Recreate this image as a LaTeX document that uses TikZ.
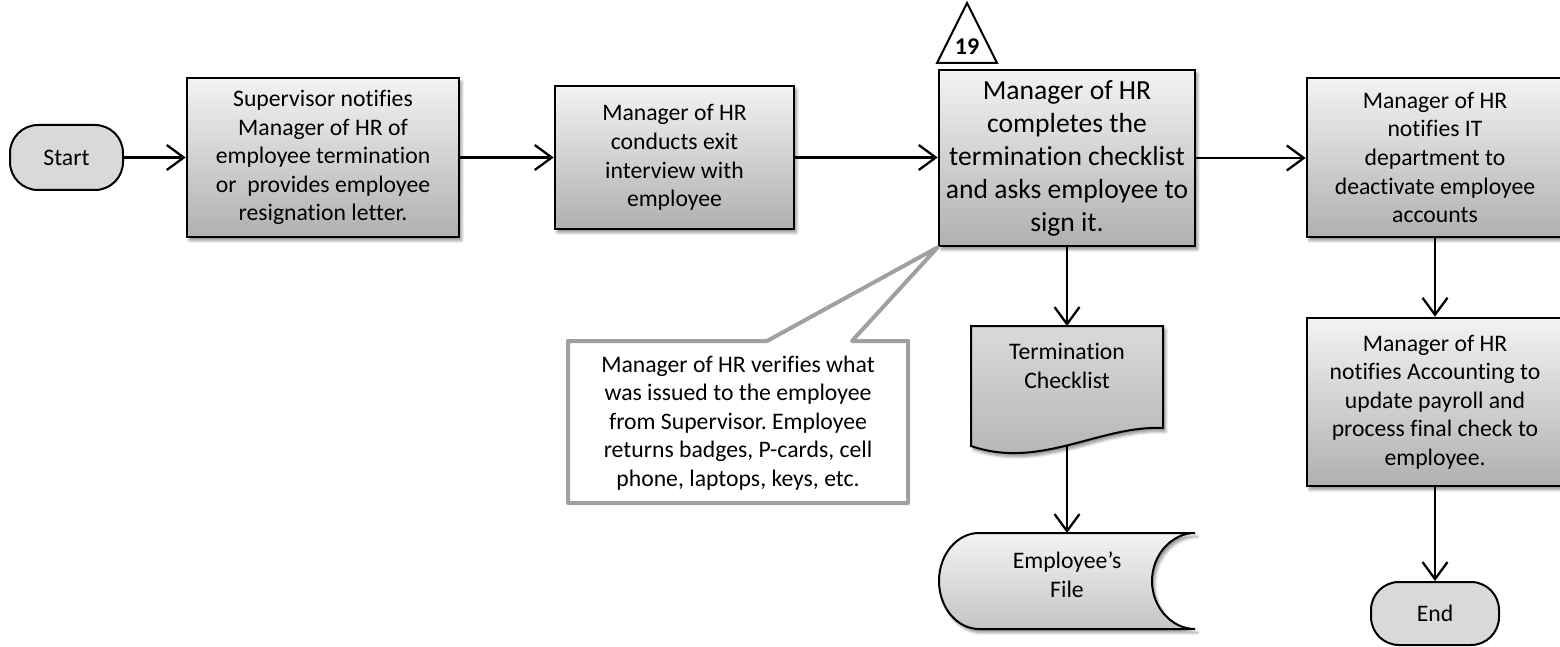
\documentclass[tikz,border=0pt]{standalone}
\usepackage{fontspec}
\setmainfont{Carlito}[Ligatures=CommonOff]
\usetikzlibrary{arrows.meta,calc,shadows.blur}

\definecolor{boxtop}{RGB}{243,243,243}
\definecolor{boxbot}{RGB}{176,176,176}
\definecolor{doctop}{RGB}{218,218,218}
\definecolor{docbot}{RGB}{178,178,178}
\definecolor{filetop}{RGB}{244,244,244}
\definecolor{filebot}{RGB}{196,196,196}
\definecolor{termfill}{RGB}{217,217,217}
\definecolor{notegray}{RGB}{160,160,160}

\frenchspacing
\begin{document}
\begin{tikzpicture}[x=1pt,y=-1pt,
  txt/.style={font=\fontsize{23.7}{28.6}\selectfont, align=center, text=black},
  bigtxt/.style={font=\fontsize{27.6}{33}\selectfont, align=center},
  softshadow/.style={blur shadow={shadow xshift=2.5pt, shadow yshift=-3.5pt,
      shadow blur radius=3pt, shadow blur steps=6, shadow opacity=45}},
  process/.style={txt, draw=black, line width=2.6pt, top color=boxtop,
      bottom color=boxbot, inner sep=0pt, softshadow},
  terminal/.style={txt, draw=black, line width=2pt, fill=termfill,
      rounded corners=28pt, inner sep=0pt},
  region/.style={inner sep=0pt, outer sep=0pt},
  flow/.style={line width=2.3pt, -{Straight Barb[length=17pt,width=25pt]}},
]
\useasboundingbox (0,0) rectangle (1560,647);

% main process steps
\node[terminal, minimum width=113pt, minimum height=65pt] (start) at (66.5,157.5) {Start};
\node[process, minimum width=272pt, minimum height=159pt] (b1) at (323,157.5)
  {Supervisor notifies\\Manager of HR of\\employee termination\\or\ \ provides employee\\resignation letter.};
\node[process, minimum width=239pt, minimum height=143pt] (b2) at (674.5,157.5)
  {Manager of HR\\conducts exit\\interview with\\employee};
\node[process, bigtxt, minimum width=256pt, minimum height=176pt] (b3) at (1067,158)
  {Manager of HR\\completes the\\termination checklist\\and asks employee to\\sign it.};
\node[process, minimum width=256pt, minimum height=159pt] (b4) at (1435,157.5)
  {Manager of HR\\notifies IT\\department to\\deactivate employee\\accounts};
\node[process, minimum width=256pt, minimum height=168pt] (b5) at (1435,402)
  {Manager of HR\\notifies Accounting to\\update payroll and\\process final check to\\employee.};
\node[terminal, minimum width=128pt, minimum height=63pt] (end) at (1435,613.5) {End};

% reference marker above the checklist step
\path[draw=black, line width=2pt, fill=white, line join=miter]
  (967,3) -- (997,63) -- (937,63) -- cycle;
\node[font=\bfseries\fontsize{24}{24}\selectfont] (ref) at (967,47) {19};

% document: termination checklist
\node[region, minimum width=192pt, minimum height=120pt] (doc) at (1067,386) {};
\path[draw=black, line width=2pt, top color=doctop, bottom color=docbot, softshadow]
  (971,326) -- (1163,326) -- (1163,428)
  .. controls (1100,425) and (1040,470) .. (971,446) -- cycle;
\node[txt] (doctext) at (1067,366) {Termination\\Checklist};
\coordinate (docwave) at (1067,445);

% stored data: employee's file
\node[region, minimum width=256pt, minimum height=96pt] (file) at (1067,581) {};
\path[draw=black, line width=2pt, top color=filetop, bottom color=filebot, softshadow]
  (979,533) -- (1195,533)
  .. controls (1172,533) and (1152,554.5) .. (1152,581)
  .. controls (1152,607.5) and (1172,629) .. (1195,629)
  -- (979,629)
  .. controls (957,629) and (939,607.5) .. (939,581)
  .. controls (939,554.5) and (957,533) .. (979,533) -- cycle;
\node[txt] (filetext) at (1067,575) {Employee’s\\File};

% callout note
\path[draw=notegray, line width=4pt, fill=white, line join=round]
  (568,341) -- (767,341) -- (b3.south west) -- (852,341) -- (908,341)
  -- (908,503) -- (568,503) -- cycle;
\node[txt, region, minimum width=340pt, minimum height=162pt] (note) at (738,423)
  {Manager of HR verifies what\\was issued to the employee\\from Supervisor. Employee\\returns badges, P-cards, cell\\phone, laptops, keys, etc.};

% connectors
\draw[flow] (start.east) -- (b1.west);
\draw[flow] (b1.east) -- (b2.west);
\draw[flow] (b2.east) -- (b2.east -| b3.west);
\draw[flow] (b3.east) -- (b3.east -| b4.west);
\draw[flow] (b4.south) -- (b5.north);
\draw[flow] (b5.south) -- (end.north);
\draw[flow] (b3.south) -- (doc.north);
\draw[flow] (docwave) -- (file.north);
\end{tikzpicture}
\end{document}
